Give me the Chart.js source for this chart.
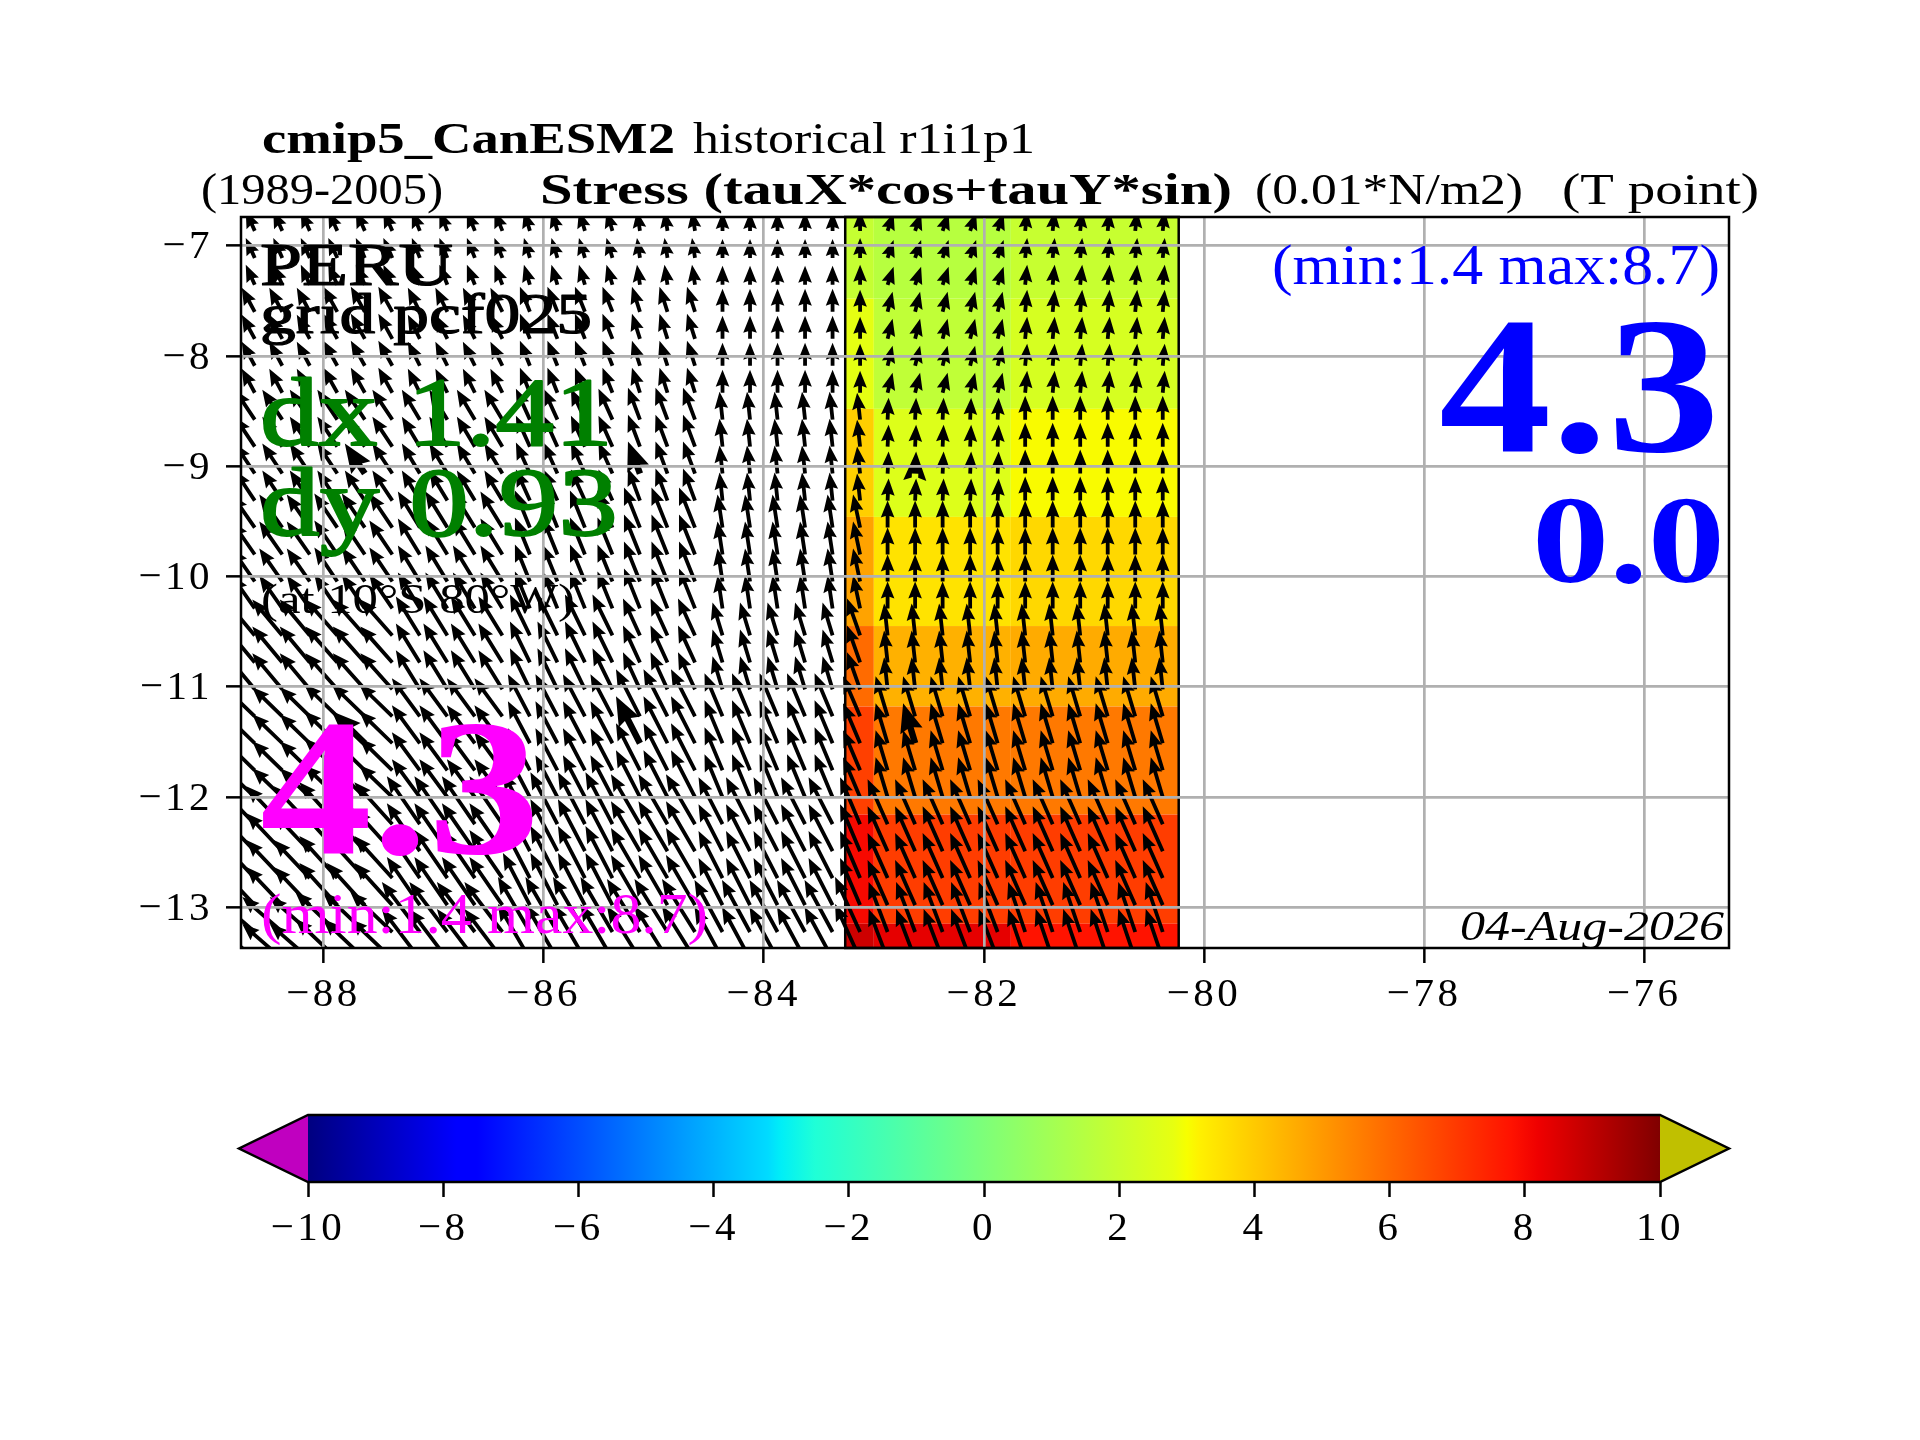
<!DOCTYPE html>
<html>
<head>
<meta charset="utf-8">
<title>cmip5_CanESM2 Stress</title>
<script src="https://cdn.jsdelivr.net/npm/chart.js@4"></script>
<style>
html,body{margin:0;padding:0;background:#fff;width:1920px;height:1440px;overflow:hidden}
canvas{position:absolute;left:0}
#main{top:0}
#cbar{top:1080px}
</style>
</head>
<body>
<canvas id="main" width="1920" height="1080"></canvas>
<canvas id="cbar" width="1920" height="260"></canvas>
<script>
// ---- data ----
const colLons = [-88.625,-88.375,-88.125,-87.875,-87.625,-87.375,-87.125,-86.875,-86.625,-86.375,-86.125,-85.875,-85.625,-85.375,-85.125,-84.875,-84.625,-84.375,-84.125,-83.875,-83.625,-83.375,-83.125,-82.875,-82.625,-82.375,-82.125,-81.875,-81.625,-81.375,-81.125,-80.875,-80.625,-80.375];
const rowLats = [-6.866,-7.111,-7.355,-7.600,-7.845,-8.089,-8.334,-8.578,-8.823,-9.067,-9.312,-9.557,-9.801,-10.046,-10.290,-10.535,-10.780,-11.024,-11.269,-11.513,-11.758,-12.002,-12.247,-12.492,-12.736,-12.981,-13.225,-13.470];
const colGroup = [0,0,0,1,1,1,2,2,2,2,3,3,3,3,4,4,4,5,5,5,5,5,6,7,7,7,7,7,8,8,8,8,8,8];
const rowGroup = [0,0,0,1,1,1,1,2,2,2,2,3,3,3,3,4,4,4,5,5,5,5,6,6,6,6,7,7];
const uByGroup = [
 [-0.9,-0.9,-0.8,-0.6,-0.3, 0.0, 0.0, 0.6, 0.2],
 [-1.3,-1.4,-1.2,-1.0,-0.8, 0.0, 0.0, 0.5, 0.2],
 [-2.0,-2.0,-1.8,-1.4,-1.2,-0.3,-0.3, 0.1, 0.0],
 [-2.3,-2.3,-2.2,-1.5,-1.6,-0.5,-0.7, 0.0, 0.0],
 [-3.0,-3.2,-2.4,-2.0,-1.7,-1.0,-1.3,-0.35,-0.35],
 [-3.0,-3.3,-2.8,-2.2,-2.4,-1.8,-1.7,-1.2,-1.2],
 [-3.6,-3.8,-3.3,-2.7,-2.9,-2.4,-2.0,-2.0,-2.0],
 [-4.0,-4.2,-3.8,-3.2,-3.3,-2.8,-2.5,-1.9,-1.7]
];
const vByGroup = [
 [2.0,2.0,2.0,2.0,2.0,1.9,2.0,1.8,2.0],
 [2.4,2.5,2.4,2.5,2.5,2.3,2.2,2.0,2.2],
 [3.0,3.0,3.0,3.1,3.2,2.8,2.7,2.2,2.4],
 [3.3,3.4,3.6,3.7,4.0,3.3,3.3,2.7,2.7],
 [3.6,3.6,3.9,4.1,3.7,3.3,3.7,3.2,3.2],
 [2.9,3.2,3.8,4.2,4.7,4.3,4.0,4.0,4.0],
 [3.8,4.2,4.8,5.2,5.0,4.7,4.7,4.5,4.5],
 [3.5,4.0,5.0,5.5,5.3,5.2,5.5,5.0,5.0]
];
const thickCols = [4,14,24];
const thickRows = [9,19];
const cellLonEdges = [-83.26,-83.0,-81.755,-80.23];
const cellLatEdges = [-6.74,-7.48,-8.48,-9.46,-10.45,-11.18,-12.16,-13.15,-13.37];
const cellValues = [
 [1.9,1.54,1.96],
 [2.74,1.76,2.35],
 [3.88,2.54,3.05],
 [4.8,3.46,3.7],
 [5.96,4.5,4.64],
 [6.85,5.66,5.66],
 [8.0,6.9,6.9],
 [8.75,8.34,7.78]
];
const cbarTicks = [-10,-8,-6,-4,-2,0,2,4,6,8,10];
const cmapValues = [-10,-7.8,-7.5,-3.2,-3,-2.5,2.8,3,3.2,7.8,8.2,10];
const cmapColors = [[0,0,128],[0,0,255],[0,0,255],[0,219,255],[0,239,247],[31,255,215],[231,255,16],[247,255,0],[255,240,0],[255,18,0],[239,0,0],[128,0,0]];
// text, left, right, baseline, size, weight, colour, style, extra stroke
const overlayTexts = [
 ["cmip5_CanESM2",262,675,153,45,"bold","#000","normal",0],
 ["historical r1i1p1",693,1035,153,45,"normal","#000","normal",0],
 ["(1989-2005)",201,443,204,45,"normal","#000","normal",0],
 ["Stress (tauX*cos+tauY*sin)",540,1232,204,45,"bold","#000","normal",0],
 ["(0.01*N/m2)",1255,1523,204,45,"normal","#000","normal",0],
 ["(T point)",1562,1759,204,45,"normal","#000","normal",0],
 ["PERU",260,453,285,62,"normal","#000","normal",1.2],
 ["grid pcf025",260,592,333,58,"normal","#000","normal",1.2],
 ["dx 1.41",260,613,445,98,"normal","#008000","normal",1.8],
 ["dy 0.93",260,618,535,98,"normal","#008000","normal",1.8],
 ["(at 10\u00b0S 80\u00b0W)",261,575,613,42,"normal","#000","normal",0],
 ["4.3",260,540,853,195,"bold","#ff00ff","normal",0],
 ["(min:1.4 max:8.7)",261,708,933,56,"normal","#ff00ff","normal",0],
 ["(min:1.4 max:8.7)",1272,1720,284,56,"normal","#0000ff","normal",0],
 ["4.3",1439,1720,451,195,"bold","#0000ff","normal",0],
 ["0.0",1532,1725,582,125,"bold","#0000ff","normal",0],
 ["04-Aug-2026",1460,1724,940,42,"normal","#000","italic",0]
];

// ---- helpers ----
const FONT = '"Liberation Serif"';
const minusLabel = v => (v<0 ? "\u2212" : "") + Math.abs(v);
const spacedTicks = {id:"spacedTicks",beforeLayout(chart){chart.ctx.letterSpacing="3.5px";},beforeDraw(chart){chart.ctx.letterSpacing="3.5px";}};
function cmap(v){
  let i = 0;
  while(i < cmapValues.length-2 && v > cmapValues[i+1]) i++;
  const t = Math.max(0,Math.min(1,(v-cmapValues[i])/(cmapValues[i+1]-cmapValues[i])));
  const a = cmapColors[i], b = cmapColors[i+1];
  return `rgb(${a.map((c,k)=>Math.round(c+(b[k]-c)*t)).join(",")})`;
}
function arrow(ctx,x,y,dx,dy,s){
  const L = Math.hypot(dx,dy), ux = dx/L, uy = -dy/L, px = -uy, py = ux;
  const sw = 1.9*s, hw = 6.8*s, hl = 17*s, nl = 15.3*s;
  const pts = [[0,sw],[L-nl,sw],[L-hl,hw],[L,0],[L-hl,-hw],[L-nl,-sw],[0,-sw]];
  ctx.beginPath();
  pts.forEach((p,i)=>{
    const X = x+ux*p[0]+px*p[1], Y = y+uy*p[0]+py*p[1];
    i ? ctx.lineTo(X,Y) : ctx.moveTo(X,Y);
  });
  ctx.closePath();
  ctx.fill();
}

const arrowPoints = [];
rowLats.forEach((lat,r)=>colLons.forEach((lon,c)=>{
  arrowPoints.push({x:lon,y:lat,u:uByGroup[rowGroup[r]][colGroup[c]],v:vByGroup[rowGroup[r]][colGroup[c]],
    thick:thickCols.includes(c)&&thickRows.includes(r)});
}));

// ---- plugins for the main chart ----
const cellsPlugin = {
  id:"cells",
  beforeDatasetsDraw(chart){
    const {ctx,scales:{x,y}} = chart;
    ctx.save();
    cellValues.forEach((row,r)=>row.forEach((val,c)=>{
      const x0 = x.getPixelForValue(cellLonEdges[c]), x1 = x.getPixelForValue(cellLonEdges[c+1]);
      const y0 = y.getPixelForValue(cellLatEdges[r]), y1 = y.getPixelForValue(cellLatEdges[r+1]);
      ctx.fillStyle = cmap(val);
      ctx.fillRect(x0,y0,x1-x0,y1-y0);
    }));
    const ex0 = x.getPixelForValue(cellLonEdges[0]), ex1 = x.getPixelForValue(cellLonEdges[3]);
    const ey0 = y.getPixelForValue(cellLatEdges[0]), ey1 = y.getPixelForValue(cellLatEdges[8]);
    ctx.strokeStyle = "#000"; ctx.lineWidth = 2.5;
    ctx.strokeRect(ex0,ey0,ex1-ex0,ey1-ey0);
    ctx.restore();
  }
};
const quiverPlugin = {
  id:"quiver",
  afterDatasetsDraw(chart){
    const {ctx,chartArea:a} = chart;
    const meta = chart.getDatasetMeta(0), data = chart.data.datasets[0].data;
    const pxPerUnit = 10;
    ctx.save();
    ctx.beginPath(); ctx.rect(a.left,a.top,a.right-a.left,a.bottom-a.top); ctx.clip();
    ctx.fillStyle = "#000";
    meta.data.forEach((el,i)=>{
      const d = data[i];
      arrow(ctx,el.x,el.y,d.u*pxPerUnit,d.v*pxPerUnit,d.thick?1.7:1);
    });
    ctx.restore();
  }
};
const framePlugin = {
  id:"frame",
  afterDraw(chart){
    const {ctx,chartArea:a} = chart;
    ctx.save();
    ctx.letterSpacing = "0px";
    ctx.strokeStyle = "#000"; ctx.lineWidth = 2.5;
    ctx.strokeRect(a.left,a.top,a.right-a.left,a.bottom-a.top);
    overlayTexts.forEach(([t,x0,x1,base,size,weight,color,style,extra])=>{
      ctx.font = `${style} ${weight} ${size}px ${FONT}`;
      ctx.fillStyle = color;
      ctx.textAlign = "left"; ctx.textBaseline = "alphabetic";
      const w = ctx.measureText(t).width;
      ctx.save();
      ctx.translate(x0,base);
      ctx.scale((x1-x0)/w,1);
      ctx.fillText(t,0,0);
      if(extra){ctx.strokeStyle = color; ctx.lineWidth = extra; ctx.lineJoin = "round"; ctx.strokeText(t,0,0);}
      ctx.restore();
    });
    ctx.restore();
  }
};

new Chart(document.getElementById("main"),{
  type:"scatter",
  data:{datasets:[{data:arrowPoints,pointRadius:0,pointHoverRadius:0,showLine:false,clip:false}]},
  options:{
    responsive:false,animation:false,devicePixelRatio:1,
    events:[],
    layout:{padding:{left:100,right:191,top:217,bottom:72}},
    plugins:{legend:{display:false},tooltip:{enabled:false},title:{display:false}},
    scales:{
      x:{type:"linear",min:-88.75,max:-75.23,
        afterFit(s){s.height=60;},
        grid:{z:1,color:"#b0b0b0",lineWidth:2.7,tickColor:"#000",tickWidth:2.5,tickLength:15},
        border:{display:false},
        ticks:{stepSize:2,includeBounds:false,autoSkip:false,maxRotation:0,color:"#000",padding:8,
          font:{family:"Liberation Serif",size:41},callback:minusLabel}},
      y:{type:"linear",min:-13.37,max:-6.74,
        afterFit(s){s.width=141;},
        grid:{z:1,color:"#b0b0b0",lineWidth:2.7,tickColor:"#000",tickWidth:2.5,tickLength:15},
        border:{display:false},
        ticks:{stepSize:1,includeBounds:false,autoSkip:false,color:"#000",padding:13,labelOffset:2,
          font:{family:"Liberation Serif",size:41},callback:minusLabel}}
    }
  },
  plugins:[spacedTicks,cellsPlugin,quiverPlugin,framePlugin]
});

// ---- colour bar ----
const cbarEnds = {
  id:"cbarEnds",
  afterDraw(chart){
    const {ctx,chartArea:a,scales:{x}} = chart;
    const ym = (a.top+a.bottom)/2, ext = 0.05*(a.right-a.left);
    const x0 = x.getPixelForValue(-10), x1 = x.getPixelForValue(10);
    ctx.save();
    ctx.lineWidth = 2.5; ctx.strokeStyle = "#000"; ctx.lineJoin = "miter";
    ctx.fillStyle = "#c000c0";
    ctx.beginPath(); ctx.moveTo(x0,a.top); ctx.lineTo(x0-ext*1.02,ym); ctx.lineTo(x0,a.bottom); ctx.closePath(); ctx.fill();
    ctx.fillStyle = "#c0c000";
    ctx.beginPath(); ctx.moveTo(x1,a.top); ctx.lineTo(x1+ext*1.02,ym); ctx.lineTo(x1,a.bottom); ctx.closePath(); ctx.fill();
    ctx.beginPath();
    ctx.moveTo(x0,a.top); ctx.lineTo(x1,a.top); ctx.lineTo(x1+ext*1.02,ym); ctx.lineTo(x1,a.bottom);
    ctx.lineTo(x0,a.bottom); ctx.lineTo(x0-ext*1.02,ym); ctx.closePath(); ctx.stroke();
    ctx.restore();
  }
};
new Chart(document.getElementById("cbar"),{
  type:"bar",
  data:{labels:["stress"],datasets:[{
    data:[[cbarTicks[0],cbarTicks[cbarTicks.length-1]]],
    barPercentage:1,categoryPercentage:1,borderWidth:0,
    backgroundColor(ctx){
      const c = ctx.chart, s = c.scales.x;
      if(!c.chartArea||!s) return "#000";
      const p0 = s.getPixelForValue(-10), p1 = s.getPixelForValue(10);
      const g = c.ctx.createLinearGradient(p0,0,p1,0);
      cmapValues.forEach(v=>g.addColorStop((v+10)/20,cmap(v)));
      return g;
    }
  }]},
  options:{
    indexAxis:"y",responsive:false,animation:false,devicePixelRatio:1,
    events:[],
    layout:{padding:{left:308,right:260,top:35,bottom:88}},
    plugins:{legend:{display:false},tooltip:{enabled:false}},
    scales:{
      x:{type:"linear",min:-10,max:10,
        afterFit(s){s.height=70;},
        grid:{drawOnChartArea:false,tickColor:"#000",tickWidth:2.5,tickLength:15},
        border:{display:false},
        ticks:{stepSize:2,autoSkip:false,maxRotation:0,color:"#000",padding:8,
          font:{family:"Liberation Serif",size:41},callback:minusLabel}},
      y:{type:"category",display:false}
    }
  },
  plugins:[spacedTicks,cbarEnds]
});
</script>
</body>
</html>
